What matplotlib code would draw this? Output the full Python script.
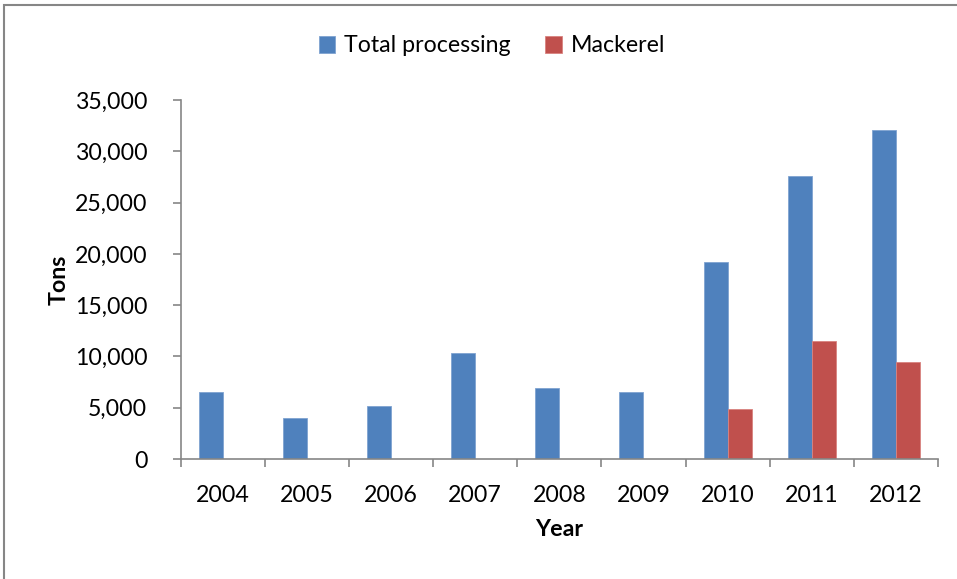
import matplotlib
matplotlib.use("Agg")
import matplotlib.pyplot as plt
import numpy as np
from matplotlib.patches import Rectangle
from matplotlib.ticker import FuncFormatter, FixedLocator

years = ["2004", "2005", "2006", "2007", "2008", "2009", "2010", "2011", "2012"]
total_processing = [6500, 4000, 5200, 10300, 6900, 6500, 19250, 27550, 32050]
mackerel = [0, 0, 0, 0, 0, 0, 4900, 11550, 9500]
series_names = ["Total processing", "Mackerel"]
y_label = "Tons"
x_label = "Year"

FS = 16.7
plt.rcParams['font.family'] = ['Lato', 'DejaVu Sans']
fig = plt.figure(figsize=(9.57, 5.79), dpi=100)
fig.patch.set_facecolor("white")
fig.add_artist(Rectangle((4/957, -0.1), 1.2, 1 - 5/579 + 0.1, transform=fig.transFigure,
                         fill=False, edgecolor="#868686", linewidth=1.5))

ax = fig.add_axes([180.7/957, 1 - 459/579, (938 - 180.7)/957, (459 - 100)/579])
x = np.arange(len(years))
w = 1/3.5
ax.bar(x - w/2, total_processing, w, color="#4F81BD", edgecolor="#7FA3D1", linewidth=0.6, label=series_names[0])
ax.bar(x + w/2, mackerel, w, color="#C0504D", edgecolor="#D9837F", linewidth=0.6, label=series_names[1])

ax.set_xlim(-0.5, len(years) - 0.5)
ax.set_ylim(0, 35000)
ax.set_yticks(np.arange(0, 35001, 5000))
ax.yaxis.set_major_formatter(FuncFormatter(lambda v, p: f"{int(v):,}"))
ax.set_xticks(x)
ax.set_xticklabels(years)
ax.xaxis.set_minor_locator(FixedLocator(np.arange(-0.5, len(years), 1)))
ax.tick_params(axis='x', which='major', length=0, pad=19, labelsize=FS, colors="black")
ax.tick_params(axis='x', which='minor', length=6, width=1.2, color="#868686")
ax.tick_params(axis='y', length=6, width=1.2, color="#868686", labelsize=FS, pad=18)
for s in ["top", "right"]:
    ax.spines[s].set_visible(False)
for s in ["left", "bottom"]:
    ax.spines[s].set_color("#868686")
    ax.spines[s].set_linewidth(1.2)

ax.set_ylabel(y_label, fontsize=FS, fontweight="bold", labelpad=4)
ax.set_xlabel(x_label, fontsize=FS, fontweight="bold", labelpad=9)

fig.legend(loc="center", bbox_to_anchor=(492/957, 1 - 46/579), ncol=2, frameon=False,
           fontsize=FS, handlelength=0.7, handleheight=0.7, handletextpad=0.4,
           columnspacing=1.5)

fig.savefig("out.png", dpi=100)
